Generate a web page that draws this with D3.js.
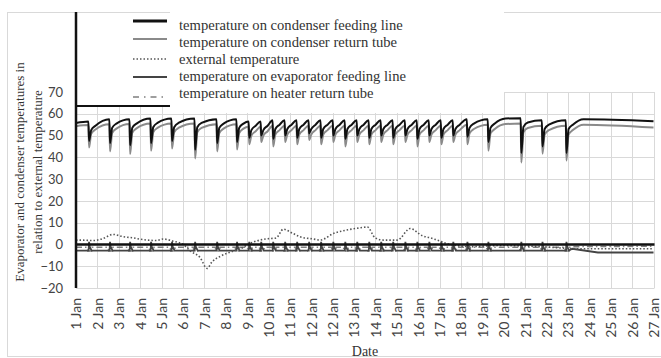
<!DOCTYPE html>
<html>
<head>
<meta charset="utf-8">
<script src="https://cdn.jsdelivr.net/npm/d3@7/dist/d3.min.js"></script>
<style>
  html, body { margin: 0; padding: 0; background: #fff; }
  svg { display: block; }
</style>
</head>
<body>
<svg id="chart" width="661" height="358"></svg>
<script>
// ---- axis labels ----
const dateLabels = ["1 Jan","2 Jan","3 Jan","4 Jan","5 Jan","6 Jan","7 Jan","8 Jan","9 Jan","10 Jan",
  "11 Jan","12 Jan","12 Jan","13 Jan","14 Jan","15 Jan","16 Jan","17 Jan","18 Jan","19 Jan","20 Jan",
  "21 Jan","22 Jan","23 Jan","24 Jan","25 Jan","26 Jan","27 Jan"];
const yTicks = [-20, -10, 0, 10, 20, 30, 40, 50, 60, 70];

// ---- condenser cycles: time of each drop (axis days), low point and level just before it ----
const dipDay = [0.61, 1.59, 2.53, 3.51, 4.49, 5.57, 6.60, 7.53,
  8.10, 8.66, 9.22, 9.78, 10.34, 10.90, 11.46, 12.03, 12.59, 13.15, 13.71, 14.27, 14.83,
  15.40, 15.96, 16.52, 17.08, 17.64, 18.30, 19.28, 20.82, 21.81, 22.93];
const feedLow = [47.5, 46.5, 45.5, 46.5, 47.5, 43.5, 46.5, 47,
  49, 50, 48.5, 50, 49, 51, 49, 50, 48.5, 50, 49, 50, 49, 50, 48.5, 50, 49, 50, 49.5,
  47, 42, 45, 42];
const returnLow = [44.5, 42.7, 41.5, 43, 44, 39.5, 42.7, 43.6,
  46, 47, 45, 47, 46, 48, 46, 47, 45, 47, 46, 47, 46, 47, 45, 47, 46, 47, 46,
  43, 37.6, 41.7, 38.5];
const feedHigh = [56.5, 57.5, 57.5, 57.8, 57.8, 57.8, 57.5, 57.5,
  56.5, 56.5, 57, 57, 57, 57, 57, 57, 57, 57, 57, 57, 57, 57, 57, 57, 57, 57, 57.5,
  57.5, 58, 57, 57];
const returnHigh = [54.8, 55.2, 55.3, 55.5, 55.5, 55.5, 55.2, 55.2,
  54, 54, 54.5, 54.5, 54.5, 54.5, 54.5, 54.5, 54.5, 54.5, 54.5, 54.5, 54.5, 54.5, 54.5, 54.5, 54.5, 54.5, 55,
  55, 55.5, 54.5, 54.5];
const feedStart = 55.8, returnStart = 54.3;
const feedEnd = 56.6, returnEnd = 53.7;

// ---- external temperature [axis day, °C] ----
const externalTemp = [[0, 2], [0.19, 2], [0.80, 1.8], [1.26, 2.7], [1.73, 4.6], [2.20, 3.6], [2.67, 3],
  [3.14, 2.2], [3.79, 1.8], [4.07, 2.5], [4.54, 1.5], [5.01, 0], [5.34, -3], [5.80, -6], [6.13, -11],
  [6.36, -8], [6.74, -5.5], [7.21, -3.5], [7.68, -2], [8.14, 0.5], [8.85, 2.5], [9.36, 3], [9.69, 7],
  [10.15, 5], [10.48, 3.5], [11.09, 2.5], [11.42, 2], [12.03, 5], [12.59, 6.5], [13.20, 7.5], [13.62, 8],
  [13.99, 3], [14.37, 2], [15.02, 2], [15.63, 7.3], [16.19, 4], [16.57, 3], [16.89, 2], [17.50, 0],
  [18.44, -1], [19.84, -0.5], [21.71, -1], [23.58, -2], [25.46, -2], [27, -2]];

// ---- evaporator feeding line and heater return tube levels ----
const evapBase = -2.8, evapPeak = 1.2;
const evapTail = [[23.2, -2], [24.4, -3.7], [27, -3.7]];
const heaterBase = -1.3, heaterLow = -3;
const heaterTail = [[23.2, -1], [27, -0.8]];

const svg = d3.select("#chart");
const W = 661;
const plot = { left: 76, right: 653.5, top: 92, bottom: 288 };

const x = d3.scaleLinear().domain([0, dateLabels.length - 1]).range([plot.left, plot.right]);
const y = d3.scaleLinear().domain([-20, 70]).range([plot.bottom, plot.top]);

// chart frame
svg.append("rect").attr("x", 7.5).attr("y", 12.5).attr("width", W).attr("height", 344)
  .attr("fill", "#fff").attr("stroke", "#d9d9d9").attr("stroke-width", 1);

// gridlines
const grid = svg.append("g");
grid.selectAll("line.h").data(yTicks).join("line")
  .attr("x1", plot.left).attr("x2", plot.right + 1)
  .attr("y1", d => Math.round(y(d)) + 0.5).attr("y2", d => Math.round(y(d)) + 0.5)
  .attr("stroke", "#d9d9d9").attr("stroke-width", 1);
grid.selectAll("line.v").data(d3.range(dateLabels.length)).join("line")
  .attr("x1", d => Math.round(x(d)) + 0.5).attr("x2", d => Math.round(x(d)) + 0.5)
  .attr("y1", plot.top).attr("y2", plot.bottom)
  .attr("stroke", "#d9d9d9").attr("stroke-width", 1);

// condenser series built from the cycle table
function cyclePath(start, low, high, end) {
  const pts = [[0, start]];
  dipDay.forEach((t, i) => {
    pts.push([t - 0.03, high[i]]);
    pts.push([t, low[i]]);
    pts.push([t + 0.1, high[i] - 4]);
    pts.push([t + 0.3, high[i] - 2]);
    const next = dipDay[i + 1];
    if (next === undefined || next - t > 1.2) pts.push([t + 0.8, high[i] + (i === dipDay.length - 1 ? 0.5 : 0.3)]);
  });
  pts.push([27, end]);
  return pts;
}
const feedPts = cyclePath(feedStart, feedLow, feedHigh, feedEnd);
const returnPts = cyclePath(returnStart, returnLow, returnHigh, returnEnd);

const evapPts = [[0, evapBase]];
dipDay.forEach(t => { evapPts.push([t - 0.02, evapBase], [t, evapPeak], [t + 0.03, -1], [t + 0.12, evapBase]); });
evapTail.forEach(p => evapPts.push(p));

const heaterPts = [[0, heaterBase]];
dipDay.forEach(t => { heaterPts.push([t - 0.08, heaterBase], [t - 0.06, heaterLow], [t + 0.12, heaterLow], [t + 0.14, heaterBase]); });
heaterTail.forEach(p => heaterPts.push(p));

const lineSmooth = d3.line().x(d => x(d[0])).y(d => y(d[1])).curve(d3.curveMonotoneX);
const lineStraight = d3.line().x(d => x(d[0])).y(d => y(d[1]));

const series = svg.append("g");
series.append("path").attr("d", lineStraight(heaterPts)).attr("fill", "none")
  .attr("stroke", "#7f7f7f").attr("stroke-width", 1.6).attr("stroke-dasharray", "6,3,1.5,3");
series.append("path").attr("d", lineStraight(evapPts)).attr("fill", "none")
  .attr("stroke", "#444").attr("stroke-width", 1.8);
series.append("path").attr("d", lineSmooth(externalTemp)).attr("fill", "none")
  .attr("stroke", "#555").attr("stroke-width", 1.6).attr("stroke-dasharray", "1.5,2");
series.append("path").attr("d", lineSmooth(returnPts)).attr("fill", "none")
  .attr("stroke", "#8a8a8a").attr("stroke-width", 2);
series.append("path").attr("d", lineSmooth(feedPts)).attr("fill", "none")
  .attr("stroke", "#111").attr("stroke-width", 2);

// zero line of the horizontal axis
svg.append("line").attr("x1", plot.left).attr("x2", plot.right + 1)
  .attr("y1", y(0)).attr("y2", y(0)).attr("stroke", "#111").attr("stroke-width", 2.5);

// blank panel above the plot at the upper left, with its rule
svg.append("rect").attr("x", plot.left).attr("y", 13).attr("width", 94).attr("height", 93).attr("fill", "#fff");
svg.append("line").attr("x1", plot.left).attr("x2", 170).attr("y1", 106).attr("y2", 106)
  .attr("stroke", "#111").attr("stroke-width", 2);

// vertical axis line
svg.append("line").attr("x1", plot.left).attr("x2", plot.left).attr("y1", 12).attr("y2", plot.bottom)
  .attr("stroke", "#111").attr("stroke-width", 2.5);

// y tick labels
const yAxis = d3.axisLeft(y).tickValues(yTicks).tickSize(0).tickPadding(13);
const gy = svg.append("g").attr("transform", `translate(${plot.left},0)`).call(yAxis);
gy.select(".domain").remove();
gy.selectAll("text").attr("font-family", "Lato, 'Open Sans', sans-serif").attr("font-size", 13)
  .attr("fill", "#444");

// x tick labels (rotated)
const xAxis = d3.axisBottom(x).tickValues(d3.range(dateLabels.length)).tickFormat(i => dateLabels[i])
  .tickSize(0);
const gx = svg.append("g").attr("transform", `translate(0,${plot.bottom})`).call(xAxis);
gx.select(".domain").remove();
gx.selectAll("text").attr("font-family", "Lato, 'Open Sans', sans-serif").attr("font-size", 14)
  .attr("fill", "#444").attr("text-anchor", "end").attr("dy", "0.35em")
  .attr("transform", "translate(0,10) rotate(-90)").attr("x", 0).attr("y", 0);

// axis titles
svg.append("text").attr("transform", "translate(24,172) rotate(-90)").attr("text-anchor", "middle")
  .attr("font-family", "'Liberation Serif', serif").attr("font-size", 13).attr("fill", "#333")
  .text("Evaporator and condenser temperatures in");
svg.append("text").attr("transform", "translate(42,172) rotate(-90)").attr("text-anchor", "middle")
  .attr("font-family", "'Liberation Serif', serif").attr("font-size", 13).attr("fill", "#333")
  .text("relation to external temperature");
svg.append("text").attr("x", 365).attr("y", 356).attr("text-anchor", "middle")
  .attr("font-family", "'Liberation Serif', serif").attr("font-size", 14).attr("fill", "#333")
  .text("Date");

// legend
const legendItems = [
  { name: "temperature on condenser feeding line", stroke: "#111", width: 3, dash: null },
  { name: "temperature on condenser return tube", stroke: "#8a8a8a", width: 2, dash: null },
  { name: "external temperature", stroke: "#555", width: 1.6, dash: "1.5,2" },
  { name: "temperature on evaporator feeding line", stroke: "#444", width: 2, dash: null },
  { name: "temperature on heater return tube", stroke: "#7f7f7f", width: 1.6, dash: "6,5,1.5,5" }
];
const legend = svg.append("g");
legend.append("rect").attr("x", 170).attr("y", 0).attr("width", 334).attr("height", 113).attr("fill", "#fff");
const sampleY = [21, 39, 59, 77, 97];
const textY = [30, 47, 64, 81, 98];
legendItems.forEach((d, i) => {
  legend.append("line").attr("x1", 133).attr("x2", 167).attr("y1", sampleY[i]).attr("y2", sampleY[i])
    .attr("stroke", d.stroke).attr("stroke-width", d.width).attr("stroke-dasharray", d.dash);
  legend.append("text").attr("x", 179).attr("y", textY[i])
    .attr("font-family", "'Liberation Serif', serif").attr("font-size", 14.6)
    .attr("fill", "#333")
    .text(d.name);
});
</script>
</body>
</html>
